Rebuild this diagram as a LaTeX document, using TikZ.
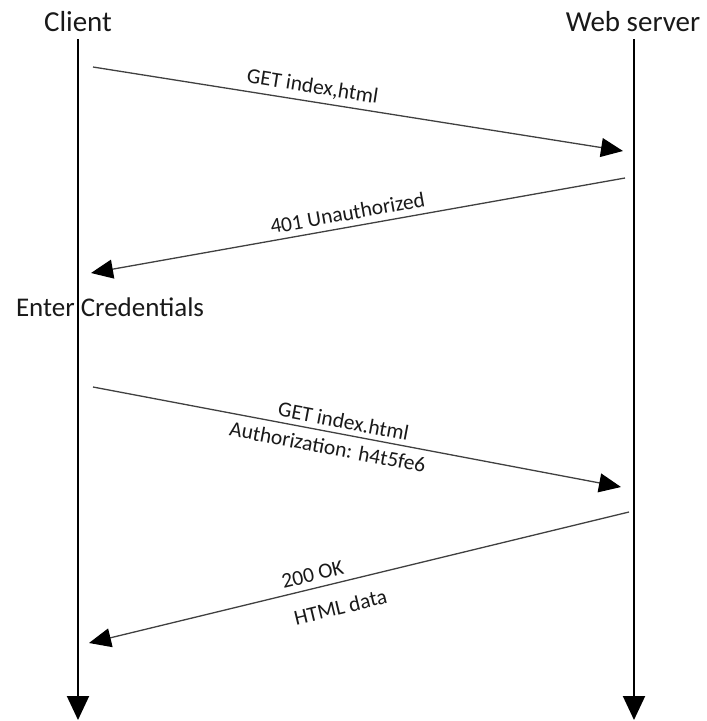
\documentclass[tikz,border=0pt]{standalone}
\usepackage{fontspec}
\setmainfont{Carlito}
\usetikzlibrary{arrows.meta}

\begin{document}
\begin{tikzpicture}[x=1pt,y=-1pt,
  actor/.style={inner sep=0pt,font=\fontsize{29}{32}\selectfont,text=black!90},
  note/.style={inner sep=0pt,font=\fontsize{27}{30}\selectfont,text=black!90},
  lbl/.style={inner sep=1pt,font=\fontsize{21.5}{24}\selectfont,text=black!90,sloped},
  lifeline/.style={line width=2pt,black,-{Triangle[length=24pt,width=22pt]}},
  msg/.style={line width=1.3pt,black!75,-{Triangle[length=22pt,width=19pt,fill=black,color=black]}}]
  \useasboundingbox (0,0) rectangle (707,721);

  % participants
  \node[actor] (client) at (78,22) {Client};
  \node[actor] (server) at (633,22) {Web server};

  % lifelines
  \coordinate (ctop) at (78,39);
  \coordinate (cbot) at (78,720);
  \coordinate (stop) at (634,39);
  \coordinate (sbot) at (634,720);
  \draw[lifeline] (ctop) -- (cbot);
  \draw[lifeline] (stop) -- (sbot);

  % message end points
  \coordinate (m1a) at (93,67);
  \coordinate (m1b) at (623,151);
  \coordinate (m2a) at (625,178);
  \coordinate (m2b) at (91,273);
  \coordinate (m3a) at (93,387);
  \coordinate (m3b) at (621,487);
  \coordinate (m4a) at (629,512);
  \coordinate (m4b) at (89,643);

  % request
  \draw[msg] (m1a) -- node[lbl,above=4pt,pos=0.41] (l1) {GET index,html} (m1b);
  % challenge
  \draw[msg] (m2a) -- node[lbl,above=5pt,pos=0.515] (l2) {401 Unauthorized} (m2b);

  \node[note] (creds) at (110,307) {Enter Credentials};

  % authorised request
  \draw[msg] (m3a) -- node[lbl,above=4pt,pos=0.47] (l3) {GET index.html}
                      node[lbl,below=6pt,pos=0.45] (l4) {Authorization: h4t5fe6} (m3b);
  % response
  \draw[msg] (m4a) -- node[lbl,above=5pt,pos=0.58] (l5) {200 OK}
                      node[lbl,below=15pt,pos=0.545] (l6) {HTML data} (m4b);
\end{tikzpicture}
\end{document}
